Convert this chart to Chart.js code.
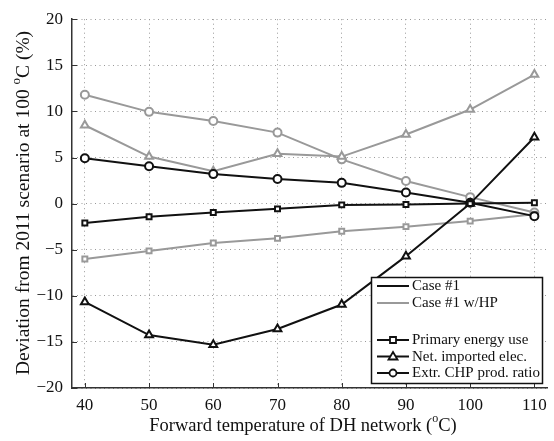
<!DOCTYPE html>
<html><head><meta charset="utf-8">
<script src="https://cdn.jsdelivr.net/npm/chart.js@4"></script>
<style>html,body{margin:0;padding:0;background:#fff}#wrap{width:554px;height:441px}</style>
</head><body><div id="wrap"><canvas id="c" width="554" height="441"></canvas></div>
<script>
const xValues = [40, 50, 60, 70, 80, 90, 100, 110];
const xTickValues = [40, 50, 60, 70, 80, 90, 100, 110];
const yTickValues = [-20, -15, -10, -5, 0, 5, 10, 15, 20];
const primaryCase1 = [-2.1, -1.43, -0.96, -0.57, -0.14, -0.1, 0.0, 0.1];
const primaryHP    = [-6.0, -5.13, -4.28, -3.77, -3.0, -2.5, -1.9, -1.15];
const elecCase1    = [-10.66, -14.26, -15.3, -13.6, -10.95, -5.7, 0.0, 7.2];
const elecHP       = [8.5, 5.1, 3.5, 5.4, 5.1, 7.5, 10.2, 14.0];
const chpCase1     = [4.92, 4.06, 3.2, 2.67, 2.25, 1.2, 0.1, -1.36];
const chpHP        = [11.8, 9.95, 8.95, 7.7, 4.8, 2.46, 0.7, -0.96];
const legendCases = ['Case #1', 'Case #1 w/HP'];
const legendMetrics = ['Primary energy use', 'Net. imported elec.', 'Extr. CHP prod. ratio'];
const xTitle = ['Forward temperature of DH network (', 'o', 'C)'];
const yTitle = ['Deviation from 2011 scenario at 100 ', 'o', 'C (%)'];

const BLACK = '#111111', GRAY = '#999999';
const FONT = "'Liberation Serif', 'Times New Roman', serif";
const pts = arr => arr.map((v, i) => ({x: xValues[i], y: v}));
function ds(arr, color, style, r) {
  return {data: pts(arr), showLine: true, borderColor: color, borderWidth: 2,
    pointStyle: style, pointRadius: r, pointHoverRadius: r, pointBorderColor: color,
    pointBackgroundColor: '#fff', pointBorderWidth: 2, tension: 0};
}

const overlay = {
  id: 'overlay',
  afterDraw(chart) {
    const ctx = chart.ctx, xs = chart.scales.x, ys = chart.scales.y, a = chart.chartArea;
    ctx.save();
    ctx.strokeStyle = '#333'; ctx.lineWidth = 1;
    ctx.beginPath();
    xTickValues.forEach(v => { const p = Math.round(xs.getPixelForValue(v)) + 0.5; ctx.moveTo(p, a.bottom); ctx.lineTo(p, a.bottom - 5); });
    yTickValues.forEach(v => { const p = Math.round(ys.getPixelForValue(v)) + 0.5; ctx.moveTo(a.left, p); ctx.lineTo(a.left + 5, p); });
    ctx.stroke();
    function drawSup(parts, size) {
      ctx.font = size + 'px ' + FONT;
      const w0 = ctx.measureText(parts[0]).width;
      ctx.font = Math.round(size * 0.65) + 'px ' + FONT;
      const w1 = ctx.measureText(parts[1]).width;
      ctx.font = size + 'px ' + FONT;
      const w2 = ctx.measureText(parts[2]).width;
      let x = -(w0 + w1 + w2) / 2;
      ctx.textBaseline = 'middle'; ctx.textAlign = 'left'; ctx.fillStyle = '#111';
      ctx.fillText(parts[0], x, 0); x += w0;
      ctx.font = Math.round(size * 0.65) + 'px ' + FONT;
      ctx.fillText(parts[1], x, -size * 0.38); x += w1;
      ctx.font = size + 'px ' + FONT;
      ctx.fillText(parts[2], x, 0);
    }
    ctx.save(); ctx.translate(303, 426); drawSup(xTitle, 18.5); ctx.restore();
    ctx.save(); ctx.translate(24, 203); ctx.rotate(-Math.PI / 2); drawSup(yTitle, 19.5); ctx.restore();
    const L = 371.5, T = 277.5, R = 542.5, B = 383.5;
    ctx.fillStyle = '#fff'; ctx.fillRect(L, T, R - L, B - T);
    ctx.strokeStyle = '#111'; ctx.lineWidth = 1.5; ctx.strokeRect(L, T, R - L, B - T);
    ctx.font = '15px ' + FONT; ctx.textBaseline = 'middle'; ctx.textAlign = 'left';
    const rows = [
      {y: 286, color: BLACK, text: legendCases[0]},
      {y: 303, color: GRAY, text: legendCases[1]},
      {y: 340, color: BLACK, text: legendMetrics[0], m: 'rect'},
      {y: 356.5, color: BLACK, text: legendMetrics[1], m: 'triangle'},
      {y: 373, color: BLACK, text: legendMetrics[2], m: 'circle'}
    ];
    rows.forEach(r => {
      ctx.strokeStyle = r.color; ctx.lineWidth = 2;
      ctx.beginPath(); ctx.moveTo(377, r.y); ctx.lineTo(409, r.y); ctx.stroke();
      if (r.m) {
        ctx.fillStyle = '#fff'; ctx.lineWidth = 1.8;
        const cx = 393, cy = r.y;
        ctx.beginPath();
        if (r.m === 'rect') { ctx.rect(cx - 3, cy - 3, 6, 6); }
        else if (r.m === 'circle') { ctx.arc(cx, cy, 3.5, 0, Math.PI * 2); }
        else { ctx.moveTo(cx, cy - 4.5); ctx.lineTo(cx + 4.5, cy + 3); ctx.lineTo(cx - 4.5, cy + 3); ctx.closePath(); }
        ctx.fill(); ctx.stroke();
      }
      ctx.fillStyle = '#111'; ctx.fillText(r.text, 412, r.y + 0.5);
    });
    ctx.restore();
  }
};

new Chart(document.getElementById('c'), {
  type: 'scatter',
  data: {datasets: [
    ds(primaryCase1, BLACK, 'rect', 3.5),
    ds(elecCase1, BLACK, 'triangle', 4.5),
    ds(chpCase1, BLACK, 'circle', 4),
    ds(primaryHP, GRAY, 'rect', 3.5),
    ds(elecHP, GRAY, 'triangle', 4.5),
    ds(chpHP, GRAY, 'circle', 4)
  ]},
  options: {
    responsive: false, animation: false, devicePixelRatio: 1,
    layout: {padding: {left: 0, right: 4, top: 14, bottom: 0}},
    plugins: {legend: {display: false}, tooltip: {enabled: false}},
    scales: {
      x: {type: 'linear', min: 38, max: 112,
        afterFit: s => { s.height = 53; },
        afterBuildTicks: s => { s.ticks = xTickValues.map(v => ({value: v})); },
        ticks: {font: {family: FONT, size: 17}, color: '#111', padding: 7, maxRotation: 0, includeBounds: false},
        grid: {color: '#999', lineWidth: 1, drawTicks: false},
        border: {display: true, color: '#333', width: 1.5, dash: [1, 3.5]}
      },
      y: {type: 'linear', min: -20, max: 20,
        afterFit: s => { s.width = 72; },
        afterBuildTicks: s => { s.ticks = yTickValues.map(v => ({value: v})); },
        ticks: {font: {family: FONT, size: 17}, color: '#111', padding: 9,
          callback: v => String(v).replace('-', '\u2212')},
        grid: {color: '#999', lineWidth: 1, drawTicks: false},
        border: {display: true, color: '#333', width: 1.5, dash: [1, 3.5]}
      }
    }
  },
  plugins: [overlay]
});
</script></body></html>
